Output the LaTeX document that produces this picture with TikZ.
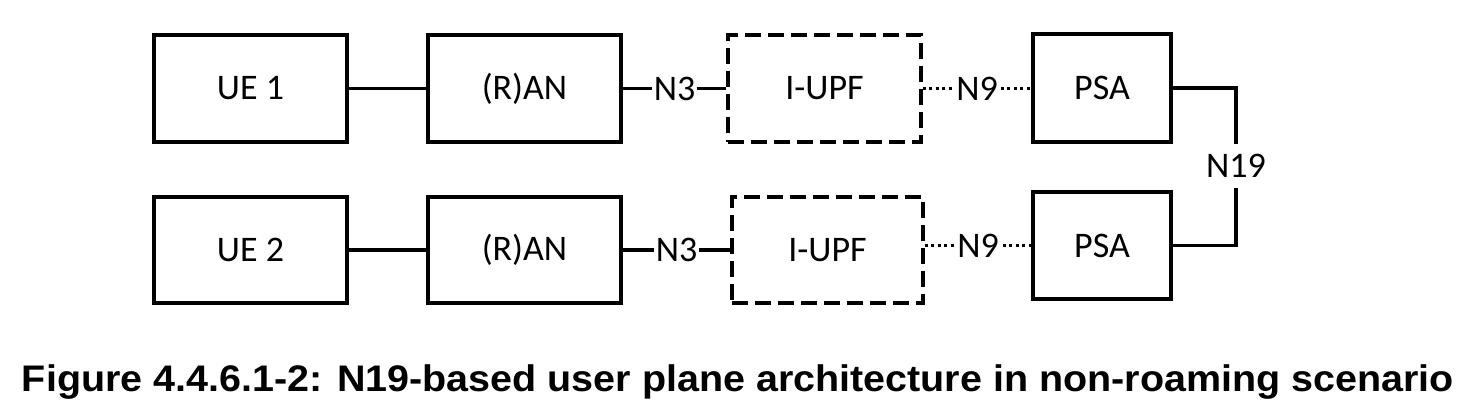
\documentclass[tikz,border=0pt]{standalone}
\usepackage{fontspec}
\setmainfont{Carlito}
\newfontfamily\capfont{Liberation Sans}
\begin{document}
\begin{tikzpicture}[x=1pt,y=-1pt,
  box/.style={draw=black,line width=3.2pt,fill=white,minimum width=193pt,minimum height=107pt,inner sep=0pt,font=\fontsize{36}{40}\selectfont},
  dbox/.style={box,dash pattern=on 16pt off 7pt},
  conn/.style={line width=3.2pt},
  dotconn/.style={line width=3.2pt,dash pattern=on 3pt off 3.5pt},
  lbl/.style={fill=white,inner xsep=1.5pt,inner ysep=2pt,font=\fontsize{36}{40}\selectfont}]
\useasboundingbox (0,0) rectangle (1484,416);
\node[box] (UE1) at (250.5,88.5) {UE 1};
\node[box] (RAN1) at (524.5,88.5) {(R)AN};
\node[dbox] (IUPF1) at (824.5,88.5) {I-UPF};
\node[box,minimum width=138pt,minimum height=108pt] (PSA1) at (1102,88) {PSA};
\node[box,minimum height=106pt] (UE2) at (250.5,250) {UE 2};
\node[box,minimum height=106pt] (RAN2) at (524.5,250) {(R)AN};
\node[dbox,minimum width=191pt,minimum height=106pt] (IUPF2) at (827.5,250) {I-UPF};
\node[box,minimum width=138pt,minimum height=107pt] (PSA2) at (1102,245.5) {PSA};
\node[font=\fontsize{36}{40}\selectfont,inner sep=0pt,minimum height=44pt] (N19) at (1236,166) {N19};
\draw[conn] (UE1) -- (RAN1);
\draw[conn] (UE2) -- (RAN2);
\draw[conn] (RAN1) -- node[lbl] {N3} (IUPF1);
\draw[conn] (RAN2) -- node[lbl] {N3} (IUPF2);
\draw[dotconn] (IUPF1) -- node[lbl] {N9} (PSA1.west |- IUPF1.east);
\draw[dotconn] (PSA2.west -| IUPF2.east) -- node[lbl] {N9} (PSA2.west);
\draw[conn] (PSA1.east) -| (N19.north);
\draw[conn] (PSA2.east) -| (N19.south);
\node[anchor=base,inner sep=0pt] (cap) at (738,391) {\resizebox{1432pt}{\height}{\capfont\bfseries\fontsize{37}{40}\selectfont Figure 4.4.6.1-2: N19-based user plane architecture in non-roaming scenario}};
\end{tikzpicture}
\end{document}
